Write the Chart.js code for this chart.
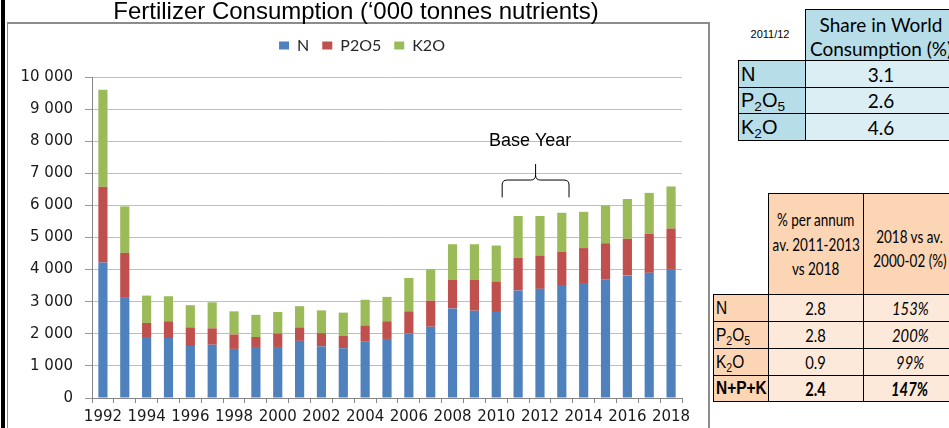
<!DOCTYPE html>
<html>
<head>
<meta charset="utf-8">
<script src="https://cdn.jsdelivr.net/npm/chart.js@4.4.1/dist/chart.umd.min.js"></script>
<style>
    html, body { margin: 0; padding: 0; background: #fff; }
    body { position: relative; width: 949px; height: 428px; overflow: hidden; font-family: "Liberation Sans", Arial, sans-serif; color: #000; }
    #edge { position: absolute; left: 1px; top: 0; width: 4px; height: 428px; background: #000; }
    #frame { position: absolute; left: 7px; top: 22px; width: 703px; height: 460px; box-sizing: border-box;
             border: 2px solid #8c8c8c; border-left-width: 1px; }
    #chartBox { position: absolute; left: 0; top: 0; width: 710px; height: 428px; }
    .cell { position: absolute; box-sizing: border-box; border: 1.5px solid #000; display: flex; flex-direction: column;
            justify-content: center; align-items: center; white-space: nowrap; }
    .cell.left { align-items: flex-start; padding-left: 2px; }
    .calibri { font-family: Lato, "Open Sans", sans-serif; }
    .narrow { display: inline-block; transform: scaleX(0.82); }
    .narrower { display: inline-block; transform: scaleX(0.75); }
    .narrowLeft { display: inline-block; transform: scaleX(0.86); transform-origin: left center; }
    sub { font-size: 0.68em; vertical-align: -0.3em; line-height: 0; }
    #yearNote { position: absolute; left: 740px; top: 28px; width: 60px; text-align: center; font-size: 11px; }
</style>
</head>
<body>
<div id="edge"></div>
<div id="frame"></div>
<div id="chartBox"><canvas id="fertilizer_chart" width="710" height="428"></canvas></div>
<div id="yearNote">2011/12</div>
<div id="tables"></div>
<script>
var years = ['1992', '1993', '1994', '1995', '1996', '1997', '1998', '1999', '2000', '2001', '2002', '2003', '2004',
    '2005', '2006', '2007', '2008', '2009', '2010', '2011', '2012', '2013', '2014', '2015', '2016', '2017', '2018'];
var nitrogen = [4220, 3120, 1900, 1870, 1620, 1660, 1530, 1590, 1590, 1780, 1610, 1550, 1770, 1840, 2010, 2220,
    2790, 2720, 2680, 3350, 3400, 3490, 3580, 3700, 3820, 3900, 4020];
var phosphate = [2360, 1400, 440, 520, 580, 510, 450, 310, 420, 420, 410, 390, 490, 550, 690, 810,
    890, 960, 950, 1020, 1040, 1070, 1090, 1120, 1140, 1220, 1260];
var potash = [3020, 1450, 850, 780, 690, 810, 720, 690, 670, 660, 710, 720, 800, 760, 1040, 980,
    1110, 1110, 1120, 1300, 1230, 1210, 1130, 1180, 1240, 1270, 1310];
var seriesNames = ['N', 'P2O5', 'K2O'];
var yMax = 10000;
var yStep = 1000;

// right hand tables
var nutrientLabels = ['N', 'P<sub>2</sub>O<sub>5</sub>', 'K<sub>2</sub>O'];
var worldShare = ['3.1', '2.6', '4.6'];
var growthLabels = ['N', 'P<sub>2</sub>O<sub>5</sub>', 'K<sub>2</sub>O', 'N+P+K'];
var growthPerAnnum = ['2.8', '2.8', '0.9', '2.4'];
var growthVsBase = ['153%', '200%', '99%', '147%'];

function spaced(value){
    return String(value).replace(/\B(?=(\d{3})+(?!\d))/g, ' ');
}

// pushes the plot area down below the legend and nudges title/legend to the right
var headerLayout = {
    id: 'headerLayout',
    beforeInit: function(chart){
        var fit = chart.legend.fit;
        chart.legend.fit = function(){
            fit.bind(chart.legend)();
            this.height += 13.5;
        };
    },
    afterLayout: function(chart){
        chart.titleBlock.left += 15;
        chart.titleBlock.right += 15;
        chart.legend.left += 21;
        chart.legend.right += 21;
    }
};

// "Base Year" label with a curly brace over 2011-2013
var baseYearBrace = {
    id: 'baseYearBrace',
    afterDatasetsDraw: function(chart){
        var ctx = chart.ctx;
        var x = chart.scales.x;
        var y = chart.scales.y;
        var x0 = x.getPixelForValue(18.27);
        var x1 = x.getPixelForValue(21.33);
        var xm = (x0 + x1) / 2;
        var yTip = y.getPixelForValue(6250);
        var yLine = y.getPixelForValue(6790);
        var yPeak = y.getPixelForValue(7290);
        var r = 5;
        ctx.save();
        ctx.strokeStyle = '#000';
        ctx.lineWidth = 1;
        ctx.beginPath();
        ctx.moveTo(x0, yTip);
        ctx.lineTo(x0, yLine + r);
        ctx.quadraticCurveTo(x0, yLine, x0 + r, yLine);
        ctx.lineTo(xm - r, yLine);
        ctx.quadraticCurveTo(xm, yLine, xm, yLine - r);
        ctx.lineTo(xm, yPeak);
        ctx.moveTo(xm, yLine - r);
        ctx.quadraticCurveTo(xm, yLine, xm + r, yLine);
        ctx.lineTo(x1 - r, yLine);
        ctx.quadraticCurveTo(x1, yLine, x1, yLine + r);
        ctx.lineTo(x1, yTip);
        ctx.stroke();
        ctx.fillStyle = '#000';
        ctx.font = '18px "Liberation Sans", Arial, sans-serif';
        ctx.textAlign = 'center';
        ctx.textBaseline = 'middle';
        ctx.fillText('Base Year', x.getPixelForValue(19.55), y.getPixelForValue(8000));
        ctx.restore();
    }
};

function drawFertilizerChart(){
    var ctx = document.getElementById('fertilizer_chart');
    var data = {
        labels: years,
        datasets: [
            { label: seriesNames[0], data: nitrogen, backgroundColor: '#4f81bd' },
            { label: seriesNames[1], data: phosphate, backgroundColor: '#c0504d' },
            { label: seriesNames[2], data: potash, backgroundColor: '#9bbb59' }
        ]
    };
    var options = {
        responsive: false,
        animation: false,
        layout: { padding: { left: 0, right: 28, top: 0, bottom: 0 } },
        datasets: { bar: { categoryPercentage: 1, barPercentage: 0.42 } },
        plugins: {
            title: {
                display: true,
                text: 'Fertilizer Consumption (\u2018000 tonnes nutrients)',
                color: '#000',
                font: { family: '"Liberation Sans", Arial, sans-serif', size: 24, weight: 'normal', lineHeight: 0.75 },
                padding: { top: 3, bottom: 3.5 }
            },
            legend: {
                position: 'top',
                labels: {
                    boxWidth: 10,
                    boxHeight: 8,
                    padding: 13,
                    color: '#262626',
                    font: { family: 'Lato, "Open Sans", sans-serif', size: 16 }
                }
            },
            tooltip: { enabled: false }
        },
        scales: {
            x: {
                stacked: true,
                afterFit: function(scale){ scale.height = 30; },
                grid: { drawOnChartArea: false, drawTicks: true, tickLength: 5, offset: true, color: '#868686' },
                border: { color: '#868686' },
                ticks: {
                    autoSkip: false,
                    maxRotation: 0,
                    padding: 5,
                    color: '#1a1a1a',
                    font: { family: '"DejaVu Sans", sans-serif', size: 15 },
                    callback: function(value, index){
                        return index % 2 === 0 ? years[index] : '';
                    }
                }
            },
            y: {
                stacked: true,
                min: 0,
                max: yMax,
                afterFit: function(scale){ scale.width = 92; },
                grid: { color: '#bfbfbf', tickLength: 7, tickColor: '#9a9a9a' },
                border: { color: '#868686' },
                ticks: {
                    stepSize: yStep,
                    padding: 12,
                    color: '#1a1a1a',
                    font: { family: '"DejaVu Sans", sans-serif', size: 15 },
                    callback: function(value){ return spaced(value); }
                }
            }
        }
    };
    return new Chart(ctx, {
        type: 'bar',
        data: data,
        options: options,
        plugins: [headerLayout, baseYearBrace]
    });
}

function addCell(x, y, w, h, bg, html, extra){
    var cell = document.createElement('div');
    cell.className = 'cell' + (extra ? ' ' + extra : '');
    cell.style.left = x + 'px';
    cell.style.top = y + 'px';
    cell.style.width = w + 'px';
    cell.style.height = h + 'px';
    cell.style.background = bg;
    cell.innerHTML = html;
    document.getElementById('tables').appendChild(cell);
    return cell;
}

function drawShareTable(){
    var rowTops = [60, 87, 113, 140];
    var head = addCell(805, 9, 152, 52, '#b7dde8',
        '<div>Share in World</div><div>Consumption (%)</div>', 'calibri');
    head.style.fontSize = '19px';
    head.style.lineHeight = '24px';
    head.style.paddingTop = '4px';
    nutrientLabels.forEach(function(label, i){
        var h = rowTops[i + 1] - rowTops[i] + 1;
        var l = addCell(738, rowTops[i], 68, h, '#b7dde8', '<span>' + label + '</span>', 'left');
        l.style.fontSize = '20px';
        var v = addCell(805, rowTops[i], 152, h, '#daeef3', worldShare[i], 'calibri');
        v.style.fontSize = '19px';
    });
}

function drawGrowthTable(){
    var rowTops = [294, 321, 348, 375, 401];
    var h1 = addCell(768, 193, 96, 102, '#fcd5b4',
        '<div class="narrower">% per annum</div><div class="narrower">av. 2011-2013</div><div class="narrower">vs 2018</div>', 'calibri');
    h1.style.fontSize = '18px';
    h1.style.lineHeight = '24.5px';
    var h2 = addCell(863, 193, 94, 102, '#fcd5b4',
        '<div class="narrower">2018 vs av.</div><div class="narrower">2000-02 (%)</div>', 'calibri');
    h2.style.fontSize = '18px';
    h2.style.lineHeight = '24.5px';
    h2.style.paddingTop = '8px';
    growthLabels.forEach(function(label, i){
        var h = rowTops[i + 1] - rowTops[i] + 1;
        var last = i === growthLabels.length - 1;
        var l = addCell(713, rowTops[i], 56, h, '#fcd5b4', '<span class="narrowLeft">' + label + '</span>', 'left');
        l.style.fontSize = '18px';
        var a = addCell(768, rowTops[i], 96, h, '#fde9d9', '<span class="narrow">' + growthPerAnnum[i] + '</span>', 'calibri');
        a.style.fontSize = '18px';
        var b = addCell(863, rowTops[i], 94, h, '#fde9d9', '<span class="narrow">' + growthVsBase[i] + '</span>', 'calibri');
        b.style.fontSize = '18px';
        b.style.fontStyle = 'italic';
        if (last){
            l.style.fontWeight = 'bold';
            a.style.fontWeight = 'bold';
            b.style.fontWeight = 'bold';
        }
    });
}

drawFertilizerChart();
drawShareTable();
drawGrowthTable();
</script>
</body>
</html>
